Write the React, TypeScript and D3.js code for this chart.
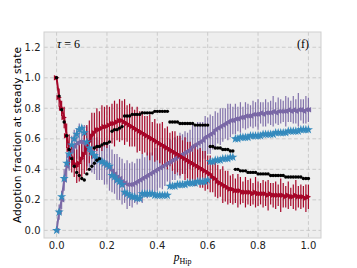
import React from "react";
import * as d3 from "d3";

const W = 357;
const H = 268;
const margin = { left: 44, top: 32, right: 36, bottom: 30 };

const xTicks = [0, 0.2, 0.4, 0.6, 0.8, 1.0];
const yTicks = [0, 0.2, 0.4, 0.6, 0.8, 1.0, 1.2];

// sampling grid of p_Hip: 0.00 .. 1.00 step 0.01
const pHip = d3.range(101).map((i) => i / 100);

const redMean = [
  1.0, 0.87, 0.8, 0.74, 0.62, 0.53, 0.48, 0.44, 0.42, 0.44, 0.47, 0.5, 0.54, 0.58, 0.62, 0.64, 0.66, 0.66, 0.67, 0.68,
  0.68, 0.69, 0.7, 0.7, 0.71, 0.72, 0.72, 0.71, 0.7, 0.69, 0.68, 0.67, 0.66, 0.65, 0.64, 0.63, 0.62, 0.61, 0.6, 0.59,
  0.58, 0.57, 0.56, 0.55, 0.54, 0.53, 0.52, 0.51, 0.5, 0.49, 0.48, 0.47, 0.46, 0.45, 0.44, 0.43, 0.42, 0.41, 0.4, 0.39,
  0.38, 0.37, 0.35, 0.34, 0.32, 0.31, 0.3, 0.29, 0.28, 0.27, 0.27, 0.26, 0.26, 0.26, 0.25, 0.25, 0.25, 0.25, 0.24, 0.25,
  0.24, 0.24, 0.24, 0.24, 0.23, 0.24, 0.23, 0.23, 0.23, 0.23, 0.23, 0.22, 0.23, 0.22, 0.22, 0.23, 0.22, 0.22, 0.22, 0.21, 0.22,
];
const redErr = [
  0.01, 0.06, 0.05, 0.07, 0.08, 0.1, 0.1, 0.09, 0.11, 0.12, 0.12, 0.13, 0.15, 0.14, 0.15, 0.13, 0.14, 0.12, 0.15, 0.13,
  0.14, 0.12, 0.13, 0.15, 0.12, 0.14, 0.13, 0.15, 0.12, 0.14, 0.13, 0.12, 0.15, 0.13, 0.14, 0.12, 0.13, 0.15, 0.11, 0.14,
  0.12, 0.13, 0.15, 0.12, 0.14, 0.11, 0.13, 0.14, 0.12, 0.13, 0.11, 0.14, 0.12, 0.13, 0.12, 0.14, 0.11, 0.13, 0.12, 0.13,
  0.11, 0.12, 0.1, 0.12, 0.11, 0.09, 0.12, 0.1, 0.11, 0.09, 0.1, 0.08, 0.11, 0.09, 0.07, 0.1, 0.08, 0.09, 0.07, 0.1,
  0.08, 0.07, 0.09, 0.08, 0.1, 0.07, 0.08, 0.09, 0.07, 0.11, 0.08, 0.07, 0.09, 0.06, 0.08, 0.1, 0.07, 0.08, 0.07, 0.09, 0.08,
];

const purpleMean = [
  0.0, 0.12, 0.2, 0.33, 0.42, 0.48, 0.52, 0.55, 0.57, 0.58, 0.58, 0.57, 0.55, 0.53, 0.51, 0.49, 0.47, 0.46, 0.45, 0.44,
  0.43, 0.41, 0.39, 0.37, 0.35, 0.34, 0.32, 0.31, 0.3, 0.3, 0.3, 0.31, 0.32, 0.33, 0.34, 0.35, 0.36, 0.37, 0.38, 0.39,
  0.4, 0.41, 0.42, 0.43, 0.44, 0.45, 0.46, 0.47, 0.48, 0.49, 0.5, 0.51, 0.52, 0.53, 0.55, 0.56, 0.57, 0.58, 0.59, 0.61,
  0.62, 0.63, 0.64, 0.66, 0.67, 0.68, 0.69, 0.7, 0.71, 0.72, 0.72, 0.73, 0.73, 0.74, 0.74, 0.75, 0.75, 0.75, 0.76, 0.76,
  0.76, 0.77, 0.76, 0.77, 0.77, 0.77, 0.78, 0.77, 0.78, 0.78, 0.78, 0.78, 0.79, 0.78, 0.79, 0.78, 0.79, 0.79, 0.78, 0.79, 0.79,
];
const purpleErr = [
  0.01, 0.05, 0.06, 0.07, 0.08, 0.09, 0.1, 0.11, 0.1, 0.12, 0.11, 0.12, 0.13, 0.12, 0.13, 0.12, 0.14, 0.13, 0.12, 0.14,
  0.13, 0.15, 0.14, 0.13, 0.15, 0.14, 0.15, 0.13, 0.16, 0.14, 0.15, 0.13, 0.15, 0.14, 0.16, 0.13, 0.15, 0.14, 0.13, 0.15,
  0.14, 0.13, 0.15, 0.14, 0.12, 0.15, 0.13, 0.14, 0.12, 0.15, 0.13, 0.14, 0.12, 0.13, 0.15, 0.12, 0.14, 0.13, 0.12, 0.14,
  0.12, 0.13, 0.11, 0.12, 0.1, 0.12, 0.11, 0.1, 0.12, 0.11, 0.09, 0.1, 0.08, 0.1, 0.07, 0.09, 0.08, 0.07, 0.09, 0.08,
  0.1, 0.07, 0.08, 0.09, 0.07, 0.08, 0.1, 0.07, 0.09, 0.08, 0.07, 0.1, 0.08, 0.07, 0.09, 0.08, 0.11, 0.07, 0.08, 0.09, 0.08,
];

const blueMean = [
  0.0, 0.12, 0.22, 0.34, 0.44, 0.5, 0.56, 0.6, 0.63, 0.66, 0.67, 0.64, 0.58, 0.54, 0.51, 0.49, 0.47, 0.46, 0.45, 0.44,
  0.43, 0.42, 0.36, 0.35, 0.33, 0.32, 0.3, 0.25, 0.24, 0.23, 0.22, 0.22, 0.21, 0.21, 0.24, 0.24, 0.24, 0.24, 0.24, 0.23,
  0.23, 0.23, 0.23, 0.23, 0.23, 0.29, 0.29, 0.29, 0.3, 0.3, 0.3, 0.3, 0.31, 0.31, 0.31, 0.31, 0.32, 0.32, 0.32, 0.32,
  0.33, 0.45, 0.45, 0.46, 0.46, 0.46, 0.47, 0.47, 0.47, 0.48, 0.48, 0.6, 0.6, 0.61, 0.61, 0.61, 0.61, 0.62, 0.62, 0.62,
  0.62, 0.62, 0.63, 0.63, 0.63, 0.63, 0.63, 0.64, 0.64, 0.64, 0.64, 0.64, 0.65, 0.65, 0.65, 0.65, 0.65, 0.66, 0.66, 0.66, 0.66,
];

// black branches: [start p_Hip, values at 0.01 steps]
const blackA: [number, number[]] = [0.0, [1.0, 0.88, 0.79, 0.71, 0.62, 0.53, 0.47, 0.42, 0.38, 0.36, 0.34, 0.33]];
const blackB: [number, number[]] = [0.12, [0.37, 0.4, 0.42, 0.44, 0.46, 0.47]];
const blackC: [number, number[]] = [0.15, [0.54, 0.55, 0.55, 0.56, 0.57, 0.57, 0.58]];
const blackD: [number, number[]] = [0.22, [0.65, 0.66, 0.66, 0.67, 0.68]];
const blackE: [number, number[]] = [
  0.27,
  [0.75, 0.75, 0.75, 0.76, 0.76, 0.76, 0.76, 0.77, 0.77, 0.77, 0.77, 0.77, 0.78, 0.78, 0.78, 0.78, 0.78, 0.78],
];
const blackF: [number, number[]] = [
  0.45,
  [0.71, 0.71, 0.71, 0.71, 0.7, 0.7, 0.7, 0.7, 0.7, 0.7, 0.69, 0.69, 0.69, 0.69, 0.69, 0.69],
];
const blackG: [number, number[]] = [0.61, [0.55, 0.55, 0.54, 0.54, 0.54, 0.53, 0.53, 0.53, 0.52, 0.52]];
const blackH: [number, number[]] = [
  0.71,
  [
    0.4, 0.4, 0.39, 0.39, 0.39, 0.38, 0.38, 0.38, 0.38, 0.37, 0.37, 0.37, 0.37, 0.37, 0.36, 0.36, 0.36, 0.36, 0.36,
    0.36, 0.35, 0.35, 0.35, 0.35, 0.35, 0.35, 0.35, 0.34, 0.34, 0.34,
  ],
];
const blackBranches = [blackA, blackB, blackC, blackD, blackE, blackF, blackG, blackH];

const RED = "#A60628";
const PURPLE = "#7A68A6";
const BLUE = "#348ABD";

const triRight = (r: number) => `M${r},0L${-r},${-r}L${-r},${r}Z`;
const triLeft = (r: number) => `M${-r},0L${r},${-r}L${r},${r}Z`;

export default function App() {
  const x = d3
    .scaleLinear()
    .domain([-0.05, 1.05])
    .range([margin.left, W - margin.right]);
  const y = d3
    .scaleLinear()
    .domain([-0.05, 1.3])
    .range([H - margin.bottom, margin.top]);

  const line = d3
    .line<number>()
    .x((_, i) => x(pHip[i]))
    .y((d) => y(d));

  const star = d3.symbol(d3.symbolStar, 26)()!;

  const blackPts = blackBranches.flatMap(([x0, vals]) =>
    vals.map((v, i) => ({ px: x0 + i / 100, v }))
  );

  const errBars = (mean: number[], err: number[], color: string, opacity: number) =>
    mean.map((m, i) => (
      <line
        key={i}
        x1={x(pHip[i])}
        x2={x(pHip[i])}
        y1={y(m - err[i])}
        y2={y(m + err[i])}
        stroke={color}
        strokeWidth={1.2}
        opacity={opacity}
      />
    ));

  const pw = W - margin.left - margin.right;
  const ph = H - margin.top - margin.bottom;

  return (
    <svg
      width={W}
      height={H}
      style={{ position: "absolute", left: 0, top: 0, background: "#fff" }}
    >
      <defs>
        <clipPath id="plot">
          <rect x={margin.left} y={margin.top} width={pw} height={ph} />
        </clipPath>
      </defs>
      <rect x={margin.left} y={margin.top} width={pw} height={ph} fill="#eeeeee" />

      {/* grid */}
      {xTicks.map((t) => (
        <line
          key={"gx" + t}
          x1={x(t)}
          x2={x(t)}
          y1={margin.top}
          y2={H - margin.bottom}
          stroke="#c6c6c6"
          strokeWidth={0.9}
          strokeDasharray="3.7,2.4"
        />
      ))}
      {yTicks.map((t) => (
        <line
          key={"gy" + t}
          x1={margin.left}
          x2={W - margin.right}
          y1={y(t)}
          y2={y(t)}
          stroke="#c6c6c6"
          strokeWidth={0.9}
          strokeDasharray="3.7,2.4"
        />
      ))}

      <g clipPath="url(#plot)">
        {errBars(purpleMean, purpleErr, PURPLE, 0.92)}
        {errBars(redMean, redErr, RED, 1)}

        <path d={line(purpleMean)!} fill="none" stroke={PURPLE} strokeWidth={2} />
        {purpleMean.map((m, i) => (
          <path key={"pm" + i} d={triLeft(2.7)} transform={`translate(${x(pHip[i])},${y(m)})`} fill={PURPLE} />
        ))}

        <path d={line(redMean)!} fill="none" stroke={RED} strokeWidth={2} />
        {redMean.map((m, i) => (
          <path key={"rm" + i} d={triRight(2.7)} transform={`translate(${x(pHip[i])},${y(m)})`} fill={RED} />
        ))}

        {blueMean.map((m, i) => (
          <path key={"bm" + i} d={star} transform={`translate(${x(pHip[i])},${y(m)})`} fill={BLUE} />
        ))}

        {blackPts.map((p, i) => (
          <circle key={"k" + i} cx={x(p.px)} cy={y(p.v)} r={1.7} fill="#000" />
        ))}
      </g>

      <rect
        x={margin.left}
        y={margin.top}
        width={pw}
        height={ph}
        fill="none"
        stroke="#cfcfcf"
        strokeWidth={1}
      />

      {/* tick labels */}
      {xTicks.map((t) => (
        <text
          key={"xt" + t}
          x={x(t)}
          y={H - margin.bottom + 11}
          textAnchor="middle"
          fontFamily="DejaVu Sans"
          fontSize={10}
          fill="#222"
        >
          {t.toFixed(1)}
        </text>
      ))}
      {yTicks.map((t) => (
        <text
          key={"yt" + t}
          x={margin.left - 3.5}
          y={y(t)}
          dy="0.36em"
          textAnchor="end"
          fontFamily="DejaVu Sans"
          fontSize={10}
          fill="#222"
        >
          {t.toFixed(1)}
        </text>
      ))}

      {/* axis labels */}
      <text
        transform={`translate(20.5,${margin.top + ph / 2}) rotate(-90)`}
        textAnchor="middle"
        fontFamily="DejaVu Sans"
        fontSize={10.7}
        fill="#000"
      >
        Adoption fraction at steady state
      </text>
      <text
        x={margin.left + pw / 2}
        y={261}
        textAnchor="middle"
        fontFamily="Liberation Serif"
        fill="#000"
      >
        <tspan fontStyle="italic" fontSize={11.5}>p</tspan>
        <tspan fontSize={8} dy={2.5}>Hip</tspan>
      </text>

      {/* annotations */}
      <text x={57} y={47.5} fontFamily="Liberation Serif" fontSize={12} fill="#000">
        <tspan fontStyle="italic">τ</tspan>
        <tspan dx={3}>=</tspan>
        <tspan dx={3}>6</tspan>
      </text>
      <text x={309} y={47.5} textAnchor="end" fontFamily="Liberation Serif" fontSize={12} fill="#000">
        (f)
      </text>
    </svg>
  );
}
